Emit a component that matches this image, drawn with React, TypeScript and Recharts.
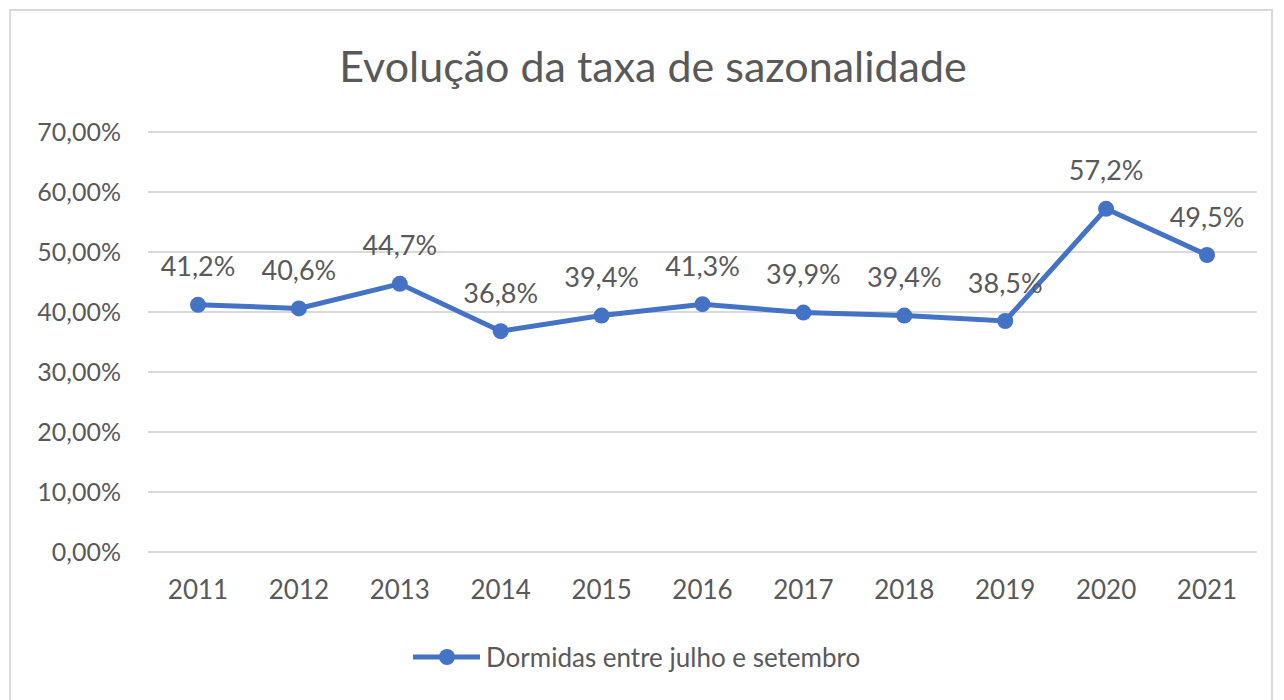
import React from 'react';
import { CartesianGrid, LabelList, Legend, Line, LineChart, XAxis, YAxis } from 'recharts';

// Evolução da taxa de sazonalidade — dormidas entre julho e setembro (% do ano)
const YEARS = ['2011', '2012', '2013', '2014', '2015', '2016', '2017', '2018', '2019', '2020', '2021'];
const TAXA = [41.2, 40.6, 44.7, 36.8, 39.4, 41.3, 39.9, 39.4, 38.5, 57.2, 49.5];
const Y_TICKS = [0, 10, 20, 30, 40, 50, 60, 70];

const SERIES = 'Dormidas entre julho e setembro';
const COL_LINE = '#4472C4';
const COL_TEXT = '#595959';
const COL_GRID = '#D9D9D9';
const FONT = 'Lato, "Open Sans", sans-serif';

const data = YEARS.map((year, i) => ({ year, taxa: TAXA[i] }));

const pct2 = (v: number) => `${v.toFixed(2).replace('.', ',')}%`;
const pct1 = (v: number) => `${v.toFixed(1).replace('.', ',')}%`;

function PointLabel(props: any) {
  const { x, y, value } = props;
  return (
    <text
      x={x}
      y={y - 39}
      textAnchor="middle"
      dominantBaseline="central"
      fill={COL_TEXT}
      fontSize={27}
      fontFamily={FONT}
    >
      {pct1(Number(value))}
    </text>
  );
}

function LegendContent() {
  return (
    <svg width={470} height={40}>
      <line x1={3} y1={20} x2={70} y2={20} stroke={COL_LINE} strokeWidth={5} />
      <circle cx={37} cy={20} r={8} fill={COL_LINE} />
      <text x={76} y={20} dominantBaseline="central" fill={COL_TEXT} fontSize={26} fontFamily={FONT}>
        {SERIES}
      </text>
    </svg>
  );
}

export default function App() {
  return (
    <div style={{ position: 'absolute', left: 0, top: 0, width: 1284, height: 700, background: '#fff' }}>
      <div
        style={{
          position: 'absolute',
          left: 9,
          top: 9,
          width: 1264,
          height: 700,
          border: '2px solid #D9D9D9',
          boxSizing: 'border-box',
        }}
      />
      <div
        style={{
          position: 'absolute',
          left: 0,
          width: 1306,
          top: 42,
          textAlign: 'center',
          fontFamily: FONT,
          fontSize: 43,
          color: COL_TEXT,
          lineHeight: '48px',
        }}
      >
        Evolução da taxa de sazonalidade
      </div>
      <LineChart
        width={1284}
        height={700}
        data={data}
        margin={{ top: 132, right: 27, left: 28, bottom: 68 }}
        style={{ position: 'absolute', left: 0, top: 0 }}
      >
        <CartesianGrid stroke={COL_GRID} strokeWidth={2} vertical={false} />
        <XAxis
          dataKey="year"
          axisLine={{ stroke: COL_GRID, strokeWidth: 2 }}
          tickLine={false}
          tickSize={0}
          tickMargin={29}
          padding={{ left: 50, right: 50 }}
          tick={{ fontSize: 26, fill: COL_TEXT, fontFamily: FONT }}
          height={40}
        />
        <YAxis
          domain={[0, 70]}
          ticks={Y_TICKS}
          axisLine={false}
          tickLine={false}
          tickSize={0}
          tickMargin={27}
          width={120}
          tickFormatter={pct2}
          tick={{ fontSize: 25, fill: COL_TEXT, fontFamily: FONT }}
        />
        <Legend
          content={<LegendContent />}
          wrapperStyle={{ position: 'absolute', left: 410, top: 637, width: 470, height: 40 }}
        />
        <Line
          dataKey="taxa"
          name={SERIES}
          stroke={COL_LINE}
          strokeWidth={5}
          dot={{ r: 8, fill: COL_LINE, stroke: COL_LINE, strokeWidth: 0 }}
          activeDot={false}
          isAnimationActive={false}
        >
          <LabelList dataKey="taxa" content={<PointLabel />} />
        </Line>
      </LineChart>
    </div>
  );
}
